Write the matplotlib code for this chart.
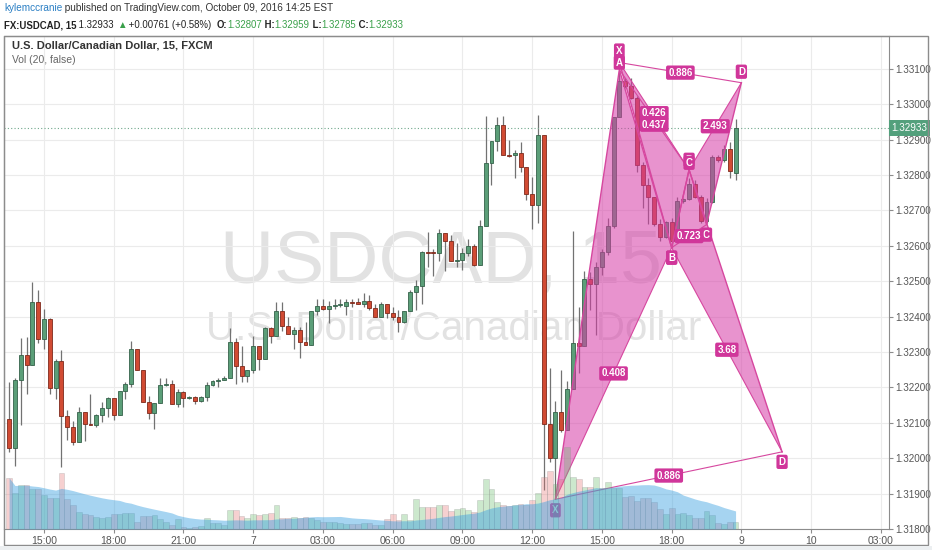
import numpy as np
import pandas as pd
import matplotlib
matplotlib.use('Agg')
import matplotlib.pyplot as plt
import matplotlib.transforms as mtransforms
from matplotlib.patches import Rectangle

plt.rcParams['font.family'] = ['Liberation Sans', 'DejaVu Sans']

# 15 minute candles, USDCAD (index 0 = first bar on the chart)
opens = [1.32110, 1.32028, 1.32221, 1.32291, 1.32262, 1.32441, 1.32337, 1.32394, 1.32197, 1.32274,
         1.32119, 1.32088, 1.32045, 1.32130, 1.32098, 1.32093, 1.32121, 1.32141, 1.32171, 1.32123,
         1.32189, 1.32211, 1.32309, 1.32248, 1.32158, 1.32128, 1.32155, 1.32207, 1.32211, 1.32152,
         1.32188, 1.32169, 1.32174, 1.32163, 1.32172, 1.32207, 1.32219, 1.32221, 1.32228, 1.32327,
         1.32260, 1.32231, 1.32249, 1.32316, 1.32279, 1.32369, 1.32346, 1.32416, 1.32374, 1.32352,
         1.32361, 1.32327, 1.32321, 1.32417, 1.32431, 1.32421, 1.32431, 1.32434, 1.32431, 1.32440,
         1.32440, 1.32436, 1.32443, 1.32425, 1.32400, 1.32437, 1.32411, 1.32400, 1.32386, 1.32416,
         1.32470, 1.32486, 1.32583, 1.32581, 1.32580, 1.32635, 1.32614, 1.32558, 1.32561, 1.32579,
         1.32600, 1.32547, 1.32656, 1.32835, 1.32895, 1.32942, 1.32858, 1.32858, 1.32861, 1.32824,
         1.32747, 1.32716, 1.32914, 1.32098, 1.32000, 1.32130, 1.32079, 1.32195, 1.32326, 1.32318,
         1.32507, 1.32491, 1.32540, 1.32582, 1.32656, 1.32963, 1.33065, 1.33051, 1.33019, 1.32828,
         1.32772, 1.32737, 1.32661, 1.32625, 1.32667, 1.32614, 1.32726, 1.32732, 1.32774, 1.32737,
         1.32670, 1.32724, 1.32852, 1.32842, 1.32875, 1.32807]
highs = [1.32214, 1.32228, 1.32339, 1.32342, 1.32498, 1.32475, 1.32422, 1.32396, 1.32280, 1.32307,
         1.32135, 1.32105, 1.32146, 1.32130, 1.32182, 1.32126, 1.32158, 1.32174, 1.32171, 1.32191,
         1.32214, 1.32330, 1.32309, 1.32248, 1.32177, 1.32155, 1.32228, 1.32228, 1.32221, 1.32195,
         1.32191, 1.32177, 1.32177, 1.32177, 1.32214, 1.32221, 1.32228, 1.32233, 1.32369, 1.32341,
         1.32318, 1.32249, 1.32346, 1.32316, 1.32372, 1.32372, 1.32442, 1.32442, 1.32400, 1.32372,
         1.32372, 1.32386, 1.32417, 1.32451, 1.32449, 1.32445, 1.32451, 1.32451, 1.32451, 1.32451,
         1.32453, 1.32467, 1.32461, 1.32437, 1.32442, 1.32437, 1.32426, 1.32419, 1.32416, 1.32476,
         1.32504, 1.32586, 1.32639, 1.32591, 1.32649, 1.32635, 1.32631, 1.32607, 1.32595, 1.32619,
         1.32605, 1.32674, 1.32968, 1.32895, 1.32963, 1.32966, 1.32898, 1.32870, 1.32893, 1.32824,
         1.32796, 1.32970, 1.32914, 1.32256, 1.32163, 1.32249, 1.32219, 1.32642, 1.32426, 1.32530,
         1.32526, 1.32554, 1.32590, 1.32679, 1.32963, 1.33093, 1.33075, 1.33075, 1.33024, 1.32838,
         1.32791, 1.32737, 1.32675, 1.32670, 1.32679, 1.32737, 1.32735, 1.32791, 1.32786, 1.32744,
         1.32735, 1.32858, 1.32856, 1.32884, 1.32893, 1.32959]
lows = [1.32018, 1.31979, 1.32093, 1.32181, 1.32262, 1.32326, 1.32309, 1.32181, 1.32166, 1.31974,
        1.32051, 1.32037, 1.32045, 1.32049, 1.32093, 1.32087, 1.32102, 1.32116, 1.32107, 1.32123,
        1.32167, 1.32200, 1.32248, 1.32158, 1.32112, 1.32082, 1.32155, 1.32205, 1.32152, 1.32144,
        1.32144, 1.32166, 1.32154, 1.32160, 1.32163, 1.32205, 1.32200, 1.32221, 1.32228, 1.32209,
        1.32216, 1.32214, 1.32242, 1.32248, 1.32279, 1.32326, 1.32346, 1.32360, 1.32352, 1.32309,
        1.32284, 1.32321, 1.32321, 1.32405, 1.32419, 1.32381, 1.32423, 1.32428, 1.32405, 1.32428,
        1.32436, 1.32428, 1.32419, 1.32400, 1.32400, 1.32395, 1.32391, 1.32358, 1.32381, 1.32416,
        1.32419, 1.32437, 1.32540, 1.32514, 1.32558, 1.32530, 1.32556, 1.32540, 1.32532, 1.32572,
        1.32542, 1.32547, 1.32656, 1.32771, 1.32867, 1.32858, 1.32851, 1.32791, 1.32808, 1.32730,
        1.32647, 1.32665, 1.31911, 1.31990, 1.31885, 1.32074, 1.32079, 1.32195, 1.32242, 1.32318,
        1.32419, 1.32349, 1.32517, 1.32573, 1.32651, 1.32963, 1.33047, 1.33014, 1.32810, 1.32707,
        1.32661, 1.32657, 1.32614, 1.32623, 1.32595, 1.32609, 1.32721, 1.32730, 1.32735, 1.32665,
        1.32665, 1.32721, 1.32838, 1.32838, 1.32791, 1.32785]
closes = [1.32028, 1.32221, 1.32291, 1.32262, 1.32441, 1.32337, 1.32394, 1.32197, 1.32276, 1.32119,
          1.32088, 1.32045, 1.32130, 1.32098, 1.32093, 1.32121, 1.32141, 1.32171, 1.32123, 1.32189,
          1.32211, 1.32309, 1.32248, 1.32158, 1.32128, 1.32155, 1.32207, 1.32211, 1.32152, 1.32188,
          1.32169, 1.32174, 1.32163, 1.32172, 1.32207, 1.32219, 1.32221, 1.32228, 1.32327, 1.32260,
          1.32231, 1.32249, 1.32316, 1.32279, 1.32369, 1.32346, 1.32416, 1.32374, 1.32352, 1.32361,
          1.32327, 1.32321, 1.32417, 1.32431, 1.32421, 1.32431, 1.32434, 1.32434, 1.32440, 1.32438,
          1.32436, 1.32443, 1.32425, 1.32400, 1.32437, 1.32411, 1.32400, 1.32386, 1.32416, 1.32470,
          1.32486, 1.32583, 1.32581, 1.32580, 1.32635, 1.32614, 1.32558, 1.32561, 1.32579, 1.32600,
          1.32547, 1.32656, 1.32835, 1.32895, 1.32942, 1.32858, 1.32853, 1.32861, 1.32824, 1.32747,
          1.32716, 1.32914, 1.32098, 1.32000, 1.32130, 1.32079, 1.32195, 1.32326, 1.32318, 1.32507,
          1.32491, 1.32540, 1.32582, 1.32656, 1.32963, 1.33065, 1.33051, 1.33019, 1.32828, 1.32772,
          1.32737, 1.32661, 1.32625, 1.32667, 1.32614, 1.32726, 1.32732, 1.32774, 1.32737, 1.32670,
          1.32724, 1.32852, 1.32842, 1.32875, 1.32811, 1.32933]
volumes = [513, 357, 440, 440, 400, 397, 340, 307, 307, 563, 300, 240, 173, 147, 140, 123, 107, 123, 147, 147,
           157, 157, 73, 133, 133, 140, 100, 67, 40, 100, 23, 13, 23, 33, 107, 57, 57, 40, 190, 190,
           133, 107, 147, 140, 147, 157, 240, 107, 113, 123, 113, 123, 107, 90, 73, 73, 73, 63, 47, 47,
           47, 57, 57, 40, 40, 100, 147, 90, 147, 90, 297, 220, 223, 223, 240, 240, 180, 200, 213, 190,
           173, 290, 500, 397, 273, 240, 233, 240, 247, 240, 290, 357, 520, 580, 450, 500, 820, 520, 500, 420,
           423, 523, 407, 473, 413, 413, 323, 333, 280, 307, 307, 273, 200, 147, 213, 147, 157, 140, 107, 107,
           180, 140, 57, 47, 73, 73]

tick_pos = [6, 18, 30, 42, 54, 66, 78, 90, 102, 114, 126, 138, 150]
tick_labels = ['15:00', '18:00', '21:00', '7', '03:00', '06:00', '09:00', '12:00', '15:00', '18:00', '9', '10', '03:00']
price_ticks = [1.318, 1.319, 1.320, 1.321, 1.322, 1.323, 1.324, 1.325, 1.326, 1.327, 1.328, 1.329, 1.330, 1.331]

# harmonic patterns: X, A, B, C, D
big_idx = [94, 105, 114, 117, 133]
big_px = [1.31884, 1.33098, 1.32595, 1.32815, 1.32018]
big_ratios = ['0.408', '0.437', '3.68', '0.886']      # XB, AC, BD, XD
up_idx = [105, 114, 117, 120, 126]
up_px = [1.33118, 1.32595, 1.32815, 1.32660, 1.33061]
up_ratios = ['0.426', '0.723', '2.493', '0.886']

last_price = 1.32933

W, H = 932, 550
fig = plt.figure(figsize=(W / 100, H / 100), dpi=100)
fig.patch.set_facecolor('white')

ax = fig.add_axes([4 / W, 1 - 529 / H, 885 / W, 493 / H])
axv = ax.twinx()   # volume overlay, drawn on top of the price pane

ax.set_xlim(-0.88, 151.4)
ax.set_ylim(1.31817, 1.33193)
ax.set_axisbelow(True)
ax.grid(True, color='#ebebeb', lw=0.8)
for s in ax.spines.values():
    s.set_color('#8c8c8c')

ax.set_xticks(tick_pos, tick_labels)
ax.yaxis.tick_right()
ax.set_yticks(price_ticks, ['%.5f' % p for p in price_ticks])
ax.tick_params(axis='both', colors='#8c8c8c', labelcolor='#555555', labelsize=7.5, length=3, pad=2)
ax.tick_params(axis='y', left=False, labelleft=False, right=True, labelright=True, labelsize=7.1, pad=1.5)

# watermark
ax.text(0.494, 0.499, 'USDCAD, 15', transform=ax.transAxes, ha='center', va='baseline',
        fontsize=54, color='#e2e2e2', zorder=0)
ax.text(0.508, 0.383, 'U.S. Dollar/Canadian Dollar', transform=ax.transAxes, ha='center', va='baseline',
        fontsize=29, color='#e2e2e2', zorder=0)

x = np.arange(len(opens))
o = np.array(opens)
c = np.array(closes)
up = c >= o
body_col = np.where(up, '#5b9e78', '#d14b33')
edge_col = np.where(up, '#35624a', '#7e2a1c')
ax.vlines(x, lows, highs, color='#727272', lw=0.9, zorder=2)
ax.bar(x, np.maximum(np.abs(c - o), 0.00003), bottom=np.minimum(o, c), width=0.68,
       color=body_col, edgecolor=edge_col, lw=0.6, zorder=3)

# current price line + label
ax.axhline(last_price, color='#6fa88b', lw=0.8, ls=(0, (1, 2)), zorder=2)
trans = mtransforms.blended_transform_factory(ax.transAxes, ax.transData)
ax.text(1.003, last_price, '%.5f' % last_price, transform=trans, ha='left', va='center',
        fontsize=7.1, color='white', clip_on=False, zorder=10,
        bbox=dict(boxstyle='square,pad=0.3', fc='#53a07c', ec='none'))

fill_col = '#d63ba6'
line_col = '#d6479f'
lab_col = '#d0369a'


def draw_pattern(idx, px):
    ax.fill(idx[0:3], px[0:3], color=fill_col, alpha=0.55, lw=0, zorder=4)
    ax.fill(idx[2:5], px[2:5], color=fill_col, alpha=0.55, lw=0, zorder=4)
    ax.plot(idx, px, color=line_col, lw=1.0, zorder=5)
    pairs = [(0, 2), (1, 3), (2, 4), (0, 4)]
    for a, b in pairs:
        ax.plot([idx[a], idx[b]], [px[a], px[b]], color=line_col, lw=0.8, zorder=5)
    return pairs


def label(xv, yv, s, dy):
    ax.annotate(s, xy=(xv, yv), xytext=(0, dy), textcoords='offset pixels', ha='center', va='center',
                fontsize=7, fontweight='bold', color='white', zorder=7, annotation_clip=False,
                bbox=dict(boxstyle='round,pad=0.22,rounding_size=0.2', fc=lab_col, ec='none'))


pairs = draw_pattern(up_idx, up_px)
draw_pattern(big_idx, big_px)

letters = ['X', 'A', 'B', 'C', 'D']
up_dy = [12, -10, 10, -10, 11]
big_dy = [-11, 7, -10, 7, -10]
for i in range(5):
    label(up_idx[i], up_px[i], letters[i], up_dy[i])
for i in range(5):
    label(big_idx[i], big_px[i], letters[i], big_dy[i])
ratio_dy_up = [3, 0, 0, 0]
ratio_dy_big = [0, -5, 0, 0]
for (a, b), r, d in zip(pairs, up_ratios, ratio_dy_up):
    label((up_idx[a] + up_idx[b]) / 2, (up_px[a] + up_px[b]) / 2, r, d)
for (a, b), r, d in zip(pairs, big_ratios, ratio_dy_big):
    label((big_idx[a] + big_idx[b]) / 2, (big_px[a] + big_px[b]) / 2, r, d)

# volume pane overlay
axv.set_ylim(0, 4930)
axv.set_yticks([])
axv.tick_params(left=False, right=False, labelleft=False, labelright=False)
for s in axv.spines.values():
    s.set_visible(False)
vol_col = np.where(up, '#66bb6a', '#e57373')
axv.bar(x, volumes, width=1.0, color=vol_col, alpha=0.33, edgecolor='#8a8a8a', lw=0.5)
vol_ma = pd.Series(volumes).rolling(20, min_periods=1).mean()
axv.fill_between(x, 0, vol_ma, color='#3aa0e0', alpha=0.45, lw=0)

# titles inside the pane
fig.text(12 / W, 1 - 46 / H, 'U.S. Dollar/Canadian Dollar, 15, FXCM', fontsize=8, color='#333333',
         va='center', fontweight='bold')
fig.text(12 / W, 1 - 60 / H, 'Vol (20, false)', fontsize=7.5, color='#666666', va='center')

# header
t = fig.text(4 / W, 1 - 8 / H, 'kylemccranie', fontsize=7.2, color='#2a7fc4', va='center')
t = ax.annotate(' published on TradingView.com, October 09, 2016 14:25 EST', xy=(1, 0), xycoords=t,
                va='bottom', fontsize=7.2, color='#333333', annotation_clip=False)

parts = [('FX:USDCAD, 15', '#222222', 'bold'), (' 1.32933 ', '#222222', 'normal'),
         ('▲', '#3aa04a', 'normal'), (' +0.00761 (+0.58%)  ', '#222222', 'normal'),
         ('O:', '#222222', 'bold'), ('1.32807', '#3aa04a', 'normal'),
         (' H:', '#222222', 'bold'), ('1.32959', '#3aa04a', 'normal'),
         (' L:', '#222222', 'bold'), ('1.32785', '#3aa04a', 'normal'),
         (' C:', '#222222', 'bold'), ('1.32933', '#3aa04a', 'normal')]
t = fig.text(4 / W, 1 - 25 / H, parts[0][0], fontsize=6.9, color=parts[0][1], fontweight=parts[0][2],
             va='center')
for s, col, fw in parts[1:]:
    t = ax.annotate(s, xy=(1, 0), xycoords=t, va='bottom', fontsize=6.9, color=col, fontweight=fw,
                    annotation_clip=False)

# outer frame and bottom strip
fig.patches.append(Rectangle((4 / W, 1 - 545 / H), 924 / W, 509 / H, transform=fig.transFigure,
                             fill=False, ec='#8c8c8c', lw=1.0))
fig.patches.append(Rectangle((0, 0), 1, 4.5 / H, transform=fig.transFigure, fc='#eceff1', ec='none'))

fig.savefig('out.png', dpi=100)
